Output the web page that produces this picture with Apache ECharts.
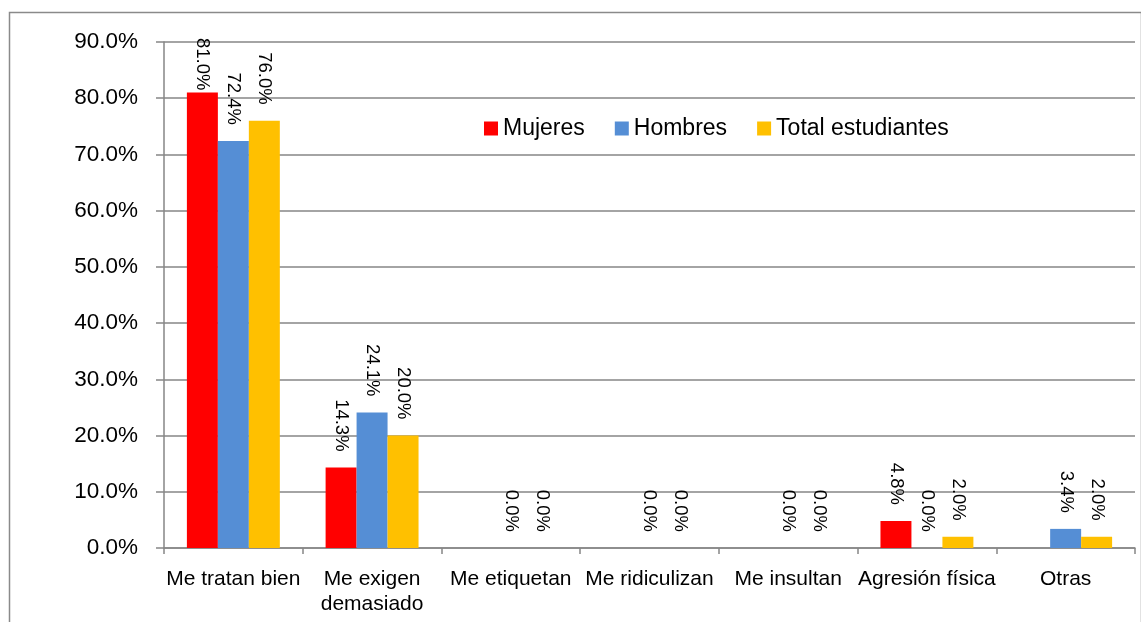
<!DOCTYPE html>
<html>
<head>
<meta charset="utf-8">
<script src="https://cdn.jsdelivr.net/npm/echarts@6/dist/echarts.min.js"></script>
<style>
  html, body { margin: 0; padding: 0; background: #fff; }
  #chart { width: 1141px; height: 622px; }
</style>
</head>
<body>
<div id="chart"></div>
<script>
// datos
const categorias = ['Me tratan bien', 'Me exigen\ndemasiado', 'Me etiquetan', 'Me ridiculizan', 'Me insultan', 'Agresión física', 'Otras']
const mujeres = [81.0, 14.3, null, null, null, 4.8, null]
const hombres = [72.4, 24.1, 0.0, 0.0, 0.0, 0.0, 3.4]
const totalEstudiantes = [76.0, 20.0, 0.0, 0.0, 0.0, 2.0, 2.0]
const yTicks = { min: 0, max: 90, interval: 10 }

const font = '"Liberation Sans", Arial, sans-serif'
const gridTop = 42

const chart = echarts.init(document.getElementById('chart'))

const labelCfg = {
  show: true,
  position: 'top',
  rotate: -90,
  align: 'right',
  verticalAlign: 'middle',
  distance: 16,
  fontFamily: font,
  fontSize: 18.5,
  color: '#000',
  formatter: (p) => p.value == null ? '' : p.value.toFixed(1) + '%'
}

function serie(name, data, color) {
  return {
    name: name,
    type: 'bar',
    data: data,
    barGap: '0%',
    barCategoryGap: '33%',
    itemStyle: { color: color },
    label: labelCfg,
    labelLayout: (params) => {
      // como en Excel: la etiqueta no sale por arriba del area
      // (la etiqueta esta girada, dx la mueve hacia abajo en pantalla)
      const limite = gridTop - 4
      if (params.labelRect.y < limite) {
        return { dx: limite - params.labelRect.y }
      }
      return {}
    }
  }
}

const option = {
  animation: false,
  backgroundColor: '#fff',
  graphic: [{
    type: 'rect',
    left: 7,
    top: 10,
    shape: { width: 1132, height: 640 },
    style: { fill: 'none', stroke: '#8a8a8a', lineWidth: 1.5 }
  }],
  legend: {
    top: 112,
    left: 479,
    itemWidth: 14,
    itemHeight: 14,
    itemGap: 30,
    icon: 'rect',
    textStyle: { fontFamily: font, fontSize: 23, color: '#000' },
    data: ['Mujeres', 'Hombres', 'Total estudiantes']
  },
  grid: {
    left: 164,
    right: 6,
    top: gridTop,
    bottom: 74,
    containLabel: false
  },
  xAxis: {
    type: 'category',
    data: categorias,
    axisLine: { lineStyle: { color: '#868686', width: 1.5 } },
    axisTick: { show: true, length: 6, lineStyle: { color: '#868686', width: 1.5 } },
    axisLabel: {
      fontFamily: font,
      fontSize: 21,
      color: '#000',
      margin: 19,
      lineHeight: 25,
      interval: 0
    }
  },
  yAxis: {
    type: 'value',
    min: yTicks.min,
    max: yTicks.max,
    interval: yTicks.interval,
    axisLine: { show: true, lineStyle: { color: '#868686', width: 1.5 } },
    axisTick: { show: true, length: 8, lineStyle: { color: '#868686', width: 1.5 } },
    splitLine: { lineStyle: { color: '#868686', width: 1.5 } },
    axisLabel: {
      fontFamily: font,
      fontSize: 22.5,
      color: '#000',
      margin: 26,
      formatter: (v) => v.toFixed(1) + '%'
    }
  },
  series: [
    serie('Mujeres', mujeres, '#FF0000'),
    serie('Hombres', hombres, '#558ED5'),
    serie('Total estudiantes', totalEstudiantes, '#FFC000')
  ]
}

chart.setOption(option)
</script>
</body>
</html>
